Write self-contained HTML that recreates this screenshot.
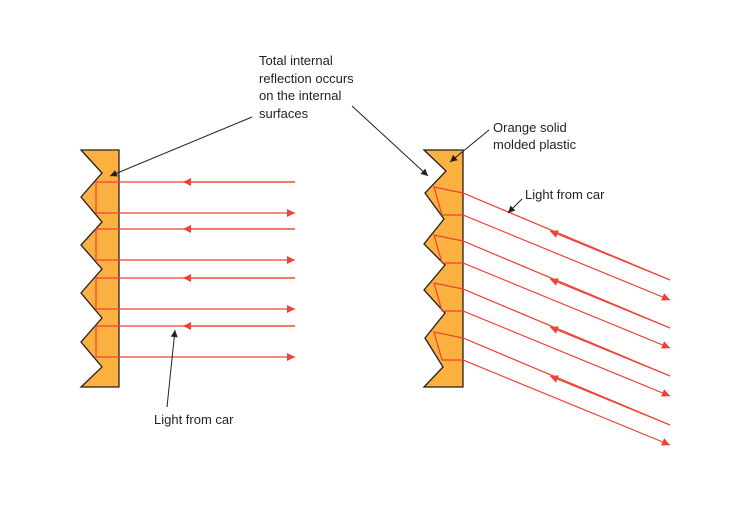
<!DOCTYPE html>
<html><head><style>
body{margin:0;background:#fff}
svg text{font-family:"Liberation Sans",sans-serif;font-size:13px;fill:#231f20}
</style></head><body>
<svg width="750" height="500" viewBox="0 0 750 500" xmlns="http://www.w3.org/2000/svg">
<defs>
<marker id="r" viewBox="0 0 10 10" refX="10" refY="5" markerWidth="12" markerHeight="8" markerUnits="userSpaceOnUse" orient="auto"><path d="M0,0L10,5L0,10z" fill="#ef4136"/></marker>
<marker id="k" viewBox="0 0 10 10" refX="10" refY="5" markerWidth="9" markerHeight="7" markerUnits="userSpaceOnUse" orient="auto"><path d="M0,0L10,5L0,10z" fill="#231f20"/></marker>
</defs>
<polygon points="81,150 119,150 119,387 81,387 102,367 81,342 102,318 81,293 102,269 81,245 102,222 81,197 102,173" fill="#fbb040" stroke="#231f20" stroke-width="1.3"/>
<polygon points="424,150 463,150 463,387 424,387 443,367 425,338 445,313 424,290 445,265 424,244 444,219 425,193 446,171" fill="#fbb040" stroke="#231f20" stroke-width="1.3"/>
<g stroke="#ef4136" stroke-width="1.2" fill="none">
<g id="lp">
<polyline points="295,182 96,182 96,213 295,213" marker-end="url(#r)"/>
<line x1="295" y1="182" x2="183" y2="182" marker-end="url(#r)"/>
</g>
<use href="#lp" y="47"/><use href="#lp" y="96"/><use href="#lp" y="144"/>
<g id="rp">
<polyline points="670,280 463,193 434,187 442,215 463,215 670,300" marker-end="url(#r)"/>
<line x1="670" y1="280" x2="550" y2="231" marker-end="url(#r)"/>
</g>
<use href="#rp" y="48"/><use href="#rp" y="96"/><use href="#rp" y="145"/>
</g>
<g stroke="#231f20" stroke-width="1" fill="none">
<line x1="252" y1="117" x2="110" y2="176" marker-end="url(#k)"/>
<line x1="352" y1="106" x2="428" y2="176" marker-end="url(#k)"/>
<line x1="489" y1="130" x2="450" y2="162" marker-end="url(#k)"/>
<line x1="522" y1="199" x2="508" y2="213" marker-end="url(#k)"/>
<line x1="167" y1="407" x2="175" y2="330" marker-end="url(#k)"/>
</g>
<text x="259" y="65">Total internal</text>
<text x="259" y="83">reflection occurs</text>
<text x="259" y="100">on the internal</text>
<text x="259" y="118">surfaces</text>
<text x="493" y="132">Orange solid</text>
<text x="493" y="149">molded plastic</text>
<text x="525" y="199">Light from car</text>
<text x="154" y="424">Light from car</text>
</svg>
</body></html>
